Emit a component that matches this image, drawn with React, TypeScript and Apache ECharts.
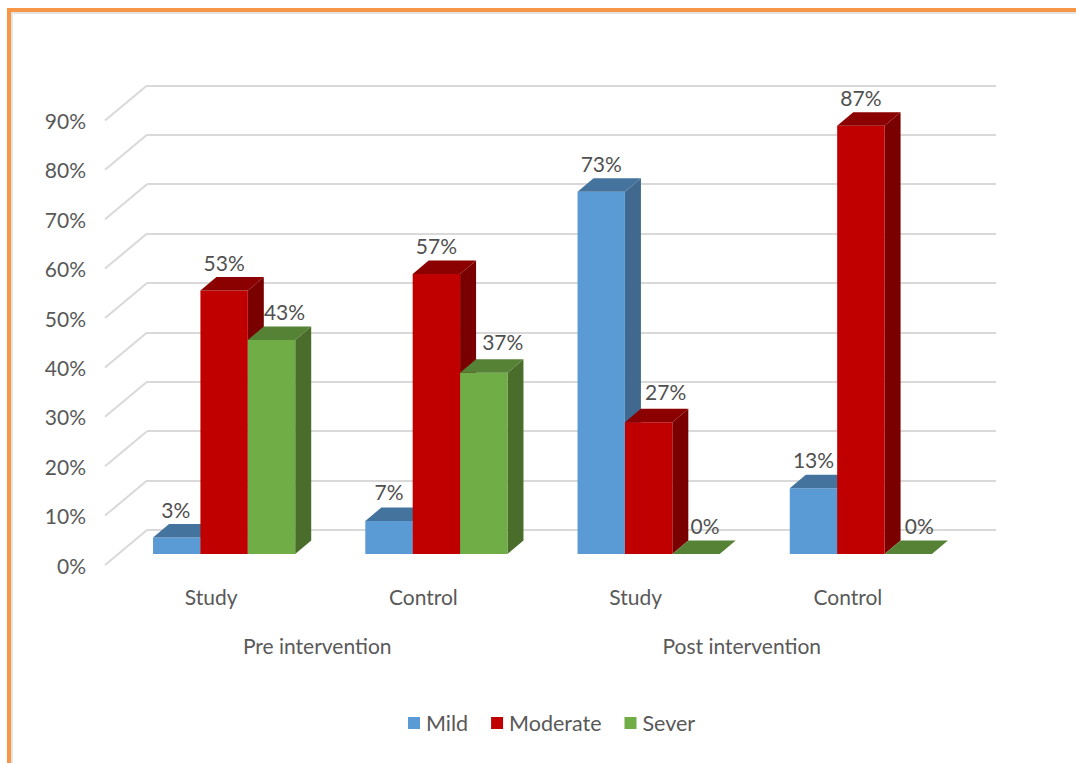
import React, { useEffect, useRef } from "react";
import * as echarts from "echarts";

const categories = ["Study", "Control", "Study", "Control"];
const phases = ["Pre intervention", "Post intervention"];
const seriesNames = ["Mild", "Moderate", "Sever"];
const mild = [3.33, 6.67, 73.33, 13.33];
const moderate = [53.33, 56.67, 26.67, 86.67];
const sever = [43.33, 36.67, 0, 0];
const percentTicks = [0, 10, 20, 30, 40, 50, 60, 70, 80, 90];

const FRONT_COLORS = ["#5B9BD5", "#C00000", "#70AD47"];
const TOP_COLORS = ["#44739D", "#8B0000", "#568235"];
const SIDE_COLORS = ["#41698F", "#7A0000", "#4A6D2B"];
const TEXT = "#595959";
const FONT = "Lato, Carlito, sans-serif";

const BAR_FRACTION = 0.2233;
const DEPTH_X = 16;
const DEPTH_Y = 13.5;
const WALL_DX = 42;
const WALL_DY = 35;
const LABEL_RISE = 27;
const labelShift = [
  [-1, 0, 13],
  [0, 0, 19],
  [0, 17, 9],
  [0, 0, 11],
];
const labelLift = [
  [1, 1, 1],
  [3, 2, 4],
  [1, 4, 2],
  [2, 1, 2],
];

export default function App() {
  const ref = useRef<HTMLDivElement>(null);
  useEffect(() => {
    document.body.style.margin = "0";
    const chart = echarts.init(ref.current!, null, { renderer: "svg" });

    const bar = (si: number) => (_p: any, api: any) => {
      const c = api.value(0);
      const pt = api.coord([c, api.value(1)]);
      const base = api.coord([c, 0]);
      const w = api.size([1, 0])[0] * BAR_FRACTION;
      const x0 = pt[0] + (si - 1.5) * w;
      const x1 = x0 + w;
      const yt = pt[1];
      const yb = base[1];
      const children: any[] = [];
      if (yb - yt > 0.5) {
        children.push({
          type: "polygon",
          shape: { points: [[x1, yt], [x1 + DEPTH_X, yt - DEPTH_Y], [x1 + DEPTH_X, yb - DEPTH_Y], [x1, yb]] },
          style: { fill: SIDE_COLORS[si] },
        });
        children.push({
          type: "rect",
          shape: { x: x0, y: yt, width: w, height: yb - yt },
          style: { fill: FRONT_COLORS[si] },
        });
      }
      children.push({
        type: "polygon",
        shape: { points: [[x0, yt], [x0 + DEPTH_X, yt - DEPTH_Y], [x1 + DEPTH_X, yt - DEPTH_Y], [x1, yt]] },
        style: { fill: TOP_COLORS[si] },
      });
      return { type: "group", children };
    };

    const barLabels = (si: number) => (_p: any, api: any) => {
      const c = api.value(0);
      const pt = api.coord([c, api.value(1)]);
      const w = api.size([1, 0])[0] * BAR_FRACTION;
      return {
        type: "text",
        x: pt[0] + (si - 1) * w + labelShift[c][si],
        y: pt[1] - LABEL_RISE - labelLift[c][si],
        style: {
          text: `${Math.round(api.value(1))}%`,
          fill: "#505050",
          font: `21px ${FONT}`,
          textAlign: "center",
          textVerticalAlign: "middle",
        },
      };
    };

    const values = [mild, moderate, sever];
    const hiddenX = (gridIndex: number) => ({
      type: "category" as const,
      gridIndex,
      data: categories,
      show: false,
    });

    chart.setOption({
      animation: false,
      backgroundColor: "#ffffff",
      grid: [
        { left: 147, width: 849, top: 85.4, height: 444.6 },
        { left: 105, width: 849, top: 120.4, height: 444.6 },
        { left: 118, width: 849, top: 109.4, height: 444.6 },
      ],
      xAxis: [
        { type: "value", gridIndex: 0, min: 0, max: 1, show: false },
        {
          type: "category",
          gridIndex: 1,
          data: categories,
          axisLine: { show: false },
          axisTick: { show: false },
          axisLabel: { color: TEXT, fontFamily: FONT, fontSize: 21, margin: 21 },
        },
        {
          type: "category",
          gridIndex: 1,
          position: "bottom",
          offset: 49,
          data: phases,
          axisLine: { show: false },
          axisTick: { show: false },
          axisLabel: { color: TEXT, fontFamily: FONT, fontSize: 21, margin: 21 },
        },
        hiddenX(2),
      ],
      yAxis: [
        {
          type: "value",
          gridIndex: 0,
          min: 0,
          max: 90,
          interval: 10,
          axisLabel: { show: false },
          axisLine: { show: false },
          axisTick: { show: false },
          splitLine: { show: true, lineStyle: { color: "#D9D9D9", width: 2 } },
        },
        {
          type: "value",
          gridIndex: 1,
          min: 0,
          max: 90,
          interval: 10,
          axisLine: { show: false },
          axisTick: { show: false },
          splitLine: { show: false },
          axisLabel: {
            color: TEXT,
            fontFamily: FONT,
            fontSize: 21,
            margin: 19,
            formatter: "{value}%",
            padding: [0, 0, 3, 0],
          },
        },
        {
          type: "value",
          gridIndex: 2,
          min: 0,
          max: 90,
          interval: 10,
          show: false,
        },
      ],
      legend: {
        data: seriesNames,
        left: 403,
        top: 707,
        icon: "rect",
        itemWidth: 12,
        itemHeight: 12,
        itemGap: 23,
        selectedMode: false,
        textStyle: { color: TEXT, fontFamily: FONT, fontSize: 21.5, padding: [0, 0, 0, 1] },
      },
      series: [
        {
          type: "custom",
          name: "wall",
          coordinateSystem: "cartesian2d",
          xAxisIndex: 0,
          yAxisIndex: 0,
          silent: true,
          data: percentTicks.map((t) => [0, t]),
          encode: { x: 0, y: 1 },
          clip: false,
          renderItem: (_p: any, api: any) => {
            const pt = api.coord([0, api.value(1)]);
            return {
              type: "line",
              shape: { x1: pt[0], y1: pt[1], x2: pt[0] - WALL_DX, y2: pt[1] + WALL_DY },
              style: { stroke: "#D9D9D9", lineWidth: 2, fill: "none" },
            };
          },
        },
        ...seriesNames.map((name, si) => ({
          type: "custom",
          name,
          coordinateSystem: "cartesian2d",
          xAxisIndex: 3,
          yAxisIndex: 2,
          itemStyle: { color: FRONT_COLORS[si] },
          data: values[si].map((v, i) => [i, v]),
          encode: { x: 0, y: 1 },
          clip: false,
          z: 3 + si,
          renderItem: bar(si),
        })),
        ...seriesNames.map((name, si) => ({
          type: "custom",
          name: `${name} labels`,
          coordinateSystem: "cartesian2d",
          xAxisIndex: 3,
          yAxisIndex: 2,
          silent: true,
          data: values[si].map((v, i) => [i, v]),
          encode: { x: 0, y: 1 },
          clip: false,
          z: 10,
          renderItem: barLabels(si),
        })),
      ],
      graphic: [
        { type: "rect", silent: true, shape: { x: 11, y: 12, width: 2, height: 751 }, style: { fill: "#E4E4E4" } },
        { type: "rect", silent: true, shape: { x: 11, y: 12, width: 1065, height: 2 }, style: { fill: "#E4E4E4" } },
        { type: "rect", silent: true, shape: { x: 7, y: 8, width: 1069, height: 4 }, style: { fill: "#F79646" } },
        { type: "rect", silent: true, shape: { x: 7, y: 8, width: 4, height: 755 }, style: { fill: "#F79646" } },
      ],
    });
    return () => chart.dispose();
  }, []);
  return <div ref={ref} style={{ width: 1076, height: 763 }} />;
}
